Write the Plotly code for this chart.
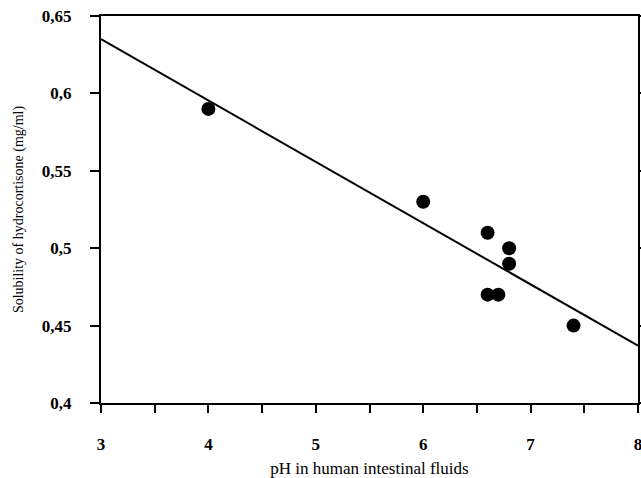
import plotly.graph_objects as go

ph = [4.0, 6.0, 6.6, 6.6, 6.7, 6.8, 6.8, 7.4]
solubility = [0.59, 0.53, 0.51, 0.47, 0.47, 0.50, 0.49, 0.45]
fit_x = [3, 8]
fit_y = [0.635, 0.437]
x_tickvals = [3, 3.5, 4, 4.5, 5, 5.5, 6, 6.5, 7, 7.5, 8]
x_ticktext = ["3", "", "4", "", "5", "", "6", "", "7", "", "8"]
y_tickvals = [0.4, 0.45, 0.5, 0.55, 0.6, 0.65]
y_ticktext = ["0,4", "0,45", "0,5", "0,55", "0,6", "0,65"]

font = "Liberation Serif, Times New Roman, serif"

fig = go.Figure()
fig.add_trace(go.Scatter(x=fit_x, y=fit_y, mode="lines",
                         line=dict(color="black", width=2), showlegend=False))
fig.add_trace(go.Scatter(x=ph, y=solubility, mode="markers",
                         marker=dict(color="black", size=14), showlegend=False))

fig.update_layout(
    width=641, height=478,
    margin=dict(l=101, r=3, t=16, b=75, autoexpand=False),
    paper_bgcolor="white", plot_bgcolor="white",
    font=dict(family=font, color="black"),
    xaxis=dict(range=[3, 8], tickvals=x_tickvals, ticktext=x_ticktext,
               ticks="outside", ticklen=8, tickwidth=2, tickcolor="black",
               showline=True, linecolor="black", linewidth=2, mirror=True,
               showgrid=False, zeroline=False, automargin=False,
               ticklabeloverflow="allow",
               tickfont=dict(size=17, family=font, weight="bold"), ticklabelstandoff=17,
               title=dict(text="pH in human intestinal fluids",
                          font=dict(size=17, family=font), standoff=10)),
    yaxis=dict(range=[0.4, 0.65], tickvals=y_tickvals, ticktext=y_ticktext,
               ticks="outside", ticklen=9, tickwidth=2, tickcolor="black",
               showline=True, linecolor="black", linewidth=2, mirror="ticks",
               showgrid=False, zeroline=False, automargin=False,
               tickfont=dict(size=17, family=font, weight="bold"), ticklabelstandoff=15,
               title=dict(text="Solubility of hydrocortisone (mg/ml)",
                          font=dict(size=14, family=font), standoff=15)),
)
fig.write_html("out.html", config={"displayModeBar": False},
               post_script="document.body.style.margin='0';")
